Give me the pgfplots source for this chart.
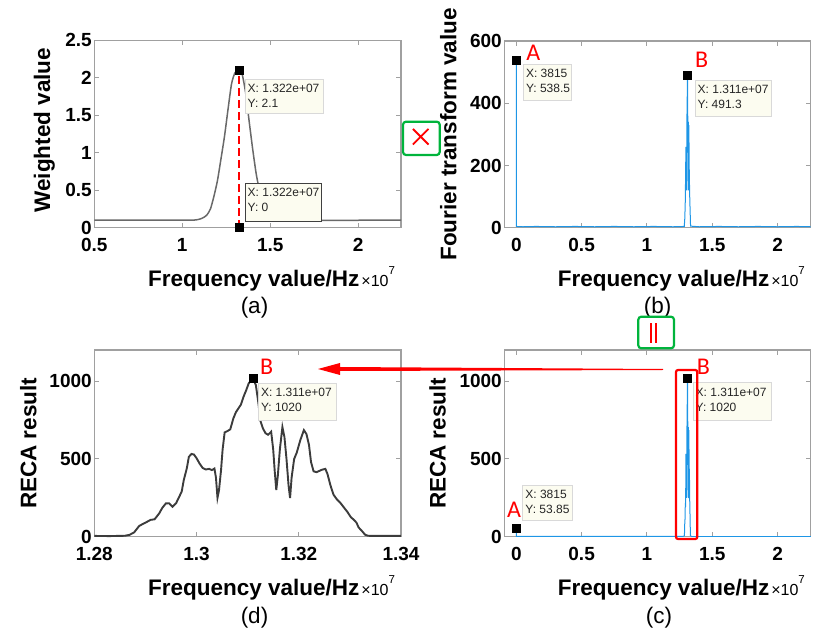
\documentclass[border=0pt]{standalone}
\usepackage{pgfplots}
\pgfplotsset{compat=1.18}
\usepackage{pgfplotstable}
\usepackage{fontspec}
\setmainfont{Liberation Sans}
\newfontfamily\calfont{Carlito}
\definecolor{mblue}{RGB}{30,150,230}
\definecolor{cgray}{RGB}{105,105,105}
\definecolor{dgray}{RGB}{60,60,60}
\definecolor{agray}{RGB}{160,160,160}
\definecolor{tipfill}{RGB}{252,252,240}
\definecolor{gbox}{RGB}{0,180,60}

\pgfplotstableread{
x y
0.50 0.10
1.00 0.10
1.06 0.10
1.08 0.105
1.10 0.115
1.12 0.135
1.14 0.17
1.16 0.25
1.18 0.42
1.20 0.63
1.22 0.92
1.24 1.22
1.26 1.58
1.28 1.92
1.30 2.07
1.322 2.10
1.34 2.05
1.36 1.80
1.38 1.42
1.40 1.05
1.42 0.72
1.44 0.48
1.46 0.30
1.48 0.18
1.50 0.12
1.52 0.10
2.243 0.10
}\atab

\pgfplotstableread{
x y
0 4
0.00038 538.5
0.0008 4
0.05 3
0.15 4
0.30 3
0.45 4
0.60 3
0.75 4
0.90 3
1.05 4
1.20 3
1.286 4
1.290 30
1.294 90
1.2985 260
1.3005 220
1.304 120
1.3055 330
1.308 400
1.311 491.3
1.3125 360
1.3145 320
1.3156 150
1.3168 340
1.3182 120
1.321 330
1.3235 200
1.327 110
1.331 50
1.334 5
1.40 3
1.55 4
1.70 3
1.85 4
2.00 3
2.15 4
2.254 3
}\btab

\pgfplotstableread{
x y
1.2800 5
1.2830 4
1.2860 6
1.2869 12
1.2878 28
1.2888 70
1.2900 90
1.2910 108
1.2918 112
1.2927 150
1.2933 185
1.2940 214
1.2946 215
1.2953 192
1.2960 215
1.2966 256
1.2971 290
1.2975 363
1.2981 440
1.2985 513
1.2990 532
1.2995 528
1.3000 505
1.3006 470
1.3012 442
1.3018 432
1.3025 436
1.3030 428
1.3035 438
1.3038 380
1.3041 250
1.3044 300
1.3048 430
1.3051 560
1.3055 670
1.3060 678
1.3066 690
1.3072 760
1.3077 800
1.3082 825
1.3087 850
1.3092 900
1.3097 940
1.3102 985
1.3110 1020
1.3116 975
1.3121 860
1.3125 745
1.3130 695
1.3135 665
1.3140 655
1.3146 675
1.3150 560
1.3153 420
1.3156 300
1.3159 390
1.3163 560
1.3168 705
1.3172 640
1.3176 500
1.3180 330
1.3183 248
1.3186 380
1.3191 500
1.3196 540
1.3203 620
1.3210 685
1.3215 660
1.3220 590
1.3224 480
1.3229 420
1.3235 415
1.3245 430
1.3252 436
1.3256 405
1.3262 330
1.3268 270
1.3275 238
1.3282 215
1.3289 185
1.3295 160
1.3302 125
1.3308 108
1.3313 90
1.3317 60
1.3324 35
1.3330 12
1.3336 6
1.3345 5
1.3400 5
}\dtab

\pgfplotsset{
 mstyle/.style={
  scale only axis,
  clip=false,
  axis line style={draw=agray, line width=1.1pt},
  tick align=inside,
  tick pos=both,
  major tick length=5pt,
  every tick/.style={draw=agray, line width=0.9pt},
  tick label style={font=\fontsize{19}{19}\selectfont\bfseries, text=black},
  /pgf/number format/assume math mode=true,
  /pgf/number format/1000 sep={},
  scaled ticks=false,
  xticklabel style={yshift=-7pt},
  yticklabel style={xshift=1pt},
  xlabel style={at={(axis description cs:0.578,-0.315)}, anchor=base, font=\fontsize{22.5}{22.5}\selectfont\bfseries},
  ylabel style={anchor=center, font=\fontsize{22.5}{22.5}\selectfont\bfseries},
  xlabel={Frequency value/Hz\hspace{2pt}{\fontsize{16}{16}\selectfont\mdseries ×10\raisebox{12pt}{\fontsize{11.5}{11.5}\selectfont 7}}},
 },
 tipmark/.style={only marks, mark=square*, mark size=4pt, black},
}

\newcommand{\tip}[6][black!15]{%
  \draw[fill=tipfill, draw=#1, line width=0.7pt] (#2,#3) rectangle (#4,#5);
  \node[anchor=north west, inner sep=0pt, align=left, text=black!85, font=\fontsize{12}{15}\selectfont] at ({#2+2.5},{#3-5}) {#6};}

\begin{document}
\begin{tikzpicture}
\useasboundingbox (0,0) rectangle (813pt,629pt);

% (a)
\begin{axis}[mstyle, at={(94.3pt,401.3pt)}, anchor=south west, width=306.7pt, height=187.4pt,
  xmin=0.5, xmax=2.243, ymin=0, ymax=2.5, xtick={0.5,1,1.5,2}, ytick={0,0.5,1,1.5,2,2.5},
  ylabel={Weighted value}, ylabel style={at={(axis description cs:-0.163,0.52)}}]
\addplot[cgray, line width=1.5pt, smooth, tension=0.4] table {\atab};
\addplot[red, line width=2.2pt, dash pattern=on 8pt off 4pt] coordinates {(1.322,0) (1.322,2.1)};
\addplot[tipmark] coordinates {(1.322,2.1) (1.322,0)};
\end{axis}

% (b)
\begin{axis}[mstyle, at={(504.3pt,401.3pt)}, anchor=south west, width=306.4pt, height=186.7pt,
  xmin=-0.092, xmax=2.254, ymin=0, ymax=600, xtick={0,0.5,1,1.5,2}, ytick={0,200,400,600},
  ylabel={Fourier transform value}, ylabel style={at={(axis description cs:-0.183,0.5)}}]
\addplot[mblue, line width=1pt] table {\btab};
\addplot[tipmark] coordinates {(0.00038,538.5) (1.311,491.3)};
\end{axis}

% (d)
\begin{axis}[mstyle, at={(94.3pt,92.3pt)}, anchor=south west, width=306.7pt, height=186.7pt,
  xmin=1.28, xmax=1.34, ymin=0, ymax=1200, xtick={1.28,1.30,1.32,1.34}, ytick={0,500,1000},
  ylabel={RECA result}, ylabel style={at={(axis description cs:-0.215,0.5)}}]
\addplot[dgray, line width=1.9pt] table {\dtab};
\addplot[tipmark] coordinates {(1.311,1020)};
\end{axis}

% (c)
\begin{axis}[mstyle, at={(504.3pt,92.3pt)}, anchor=south west, width=306.4pt, height=186.7pt,
  xmin=-0.092, xmax=2.254, ymin=0, ymax=1200, xtick={0,0.5,1,1.5,2}, ytick={0,500,1000},
  ylabel={RECA result}, ylabel style={at={(axis description cs:-0.218,0.5)}}]
\addplot[mblue, line width=1pt] coordinates {(0,0) (0.00038,53.85) (0.0008,2) (1.28,2)};
\addplot[mblue, line width=1pt] table {\dtab};
\addplot[mblue, line width=1pt] coordinates {(1.34,2) (2.254,2)};
\addplot[tipmark] coordinates {(0.00038,53.85) (1.311,1020)};
\end{axis}

\begin{scope}[x=1pt,y=1pt]
\tip{245}{550}{323}{516}{X: 1.322e+07\\Y: 2.1}
\tip[black!75]{245}{445.7}{321.7}{407.3}{X: 1.322e+07\\Y: 0}
\tip{523.3}{564.7}{571.7}{529}{X: 3815\\Y: 538.5}
\tip{695}{549}{771.7}{512.3}{X: 1.311e+07\\Y: 491.3}
\tip{258.3}{245.7}{336.7}{209}{X: 1.311e+07\\Y: 1020}
\tip{693}{246.3}{771.7}{209}{X: 1.311e+07\\Y: 1020}
\tip{522.7}{144}{572.3}{109}{X: 3815\\Y: 53.85}

\node[red, font=\calfont\fontsize{24}{24}\selectfont] at (533.3,575.7) {A};
\node[red, font=\calfont\fontsize{24}{24}\selectfont] at (701.7,569) {B};
\node[red, font=\calfont\fontsize{24}{24}\selectfont] at (266.7,262.3) {B};
\node[red, font=\calfont\fontsize{24}{24}\selectfont] at (703.3,262.3) {B};
\node[red, font=\calfont\fontsize{24}{24}\selectfont] at (514,119) {A};

\node[font=\fontsize{22.5}{22.5}\selectfont] at (254.5,321.5) {(a)};
\node[font=\fontsize{22.5}{22.5}\selectfont] at (657.5,321.5) {(b)};
\node[font=\fontsize{22.5}{22.5}\selectfont] at (254.5,11.5) {(d)};
\node[font=\fontsize{22.5}{22.5}\selectfont] at (659,11.5) {(c)};

\draw[gbox, line width=2.2pt, rounded corners=3pt] (403,474) rectangle (439.7,507.3);
\draw[red, line width=1.8pt] (412.9,484.5) -- (428.5,500.1) (412.9,500.1) -- (428.5,484.5);
\draw[gbox, line width=2.2pt, rounded corners=3pt] (638.3,280.7) rectangle (674,312.3);
\draw[red, line width=1.6pt] (650.7,286) -- (650.7,306) (655.7,286) -- (655.7,306);
\fill[red] (663,259.0) -- (663,260.0) -- (340,262) -- (340,266) -- (318,260) -- (340,254) -- (340,258) -- cycle;
\draw[red, line width=2.2pt, rounded corners=2pt] (676,90) rectangle (697.3,259);
\end{scope}
\end{tikzpicture}
\end{document}
